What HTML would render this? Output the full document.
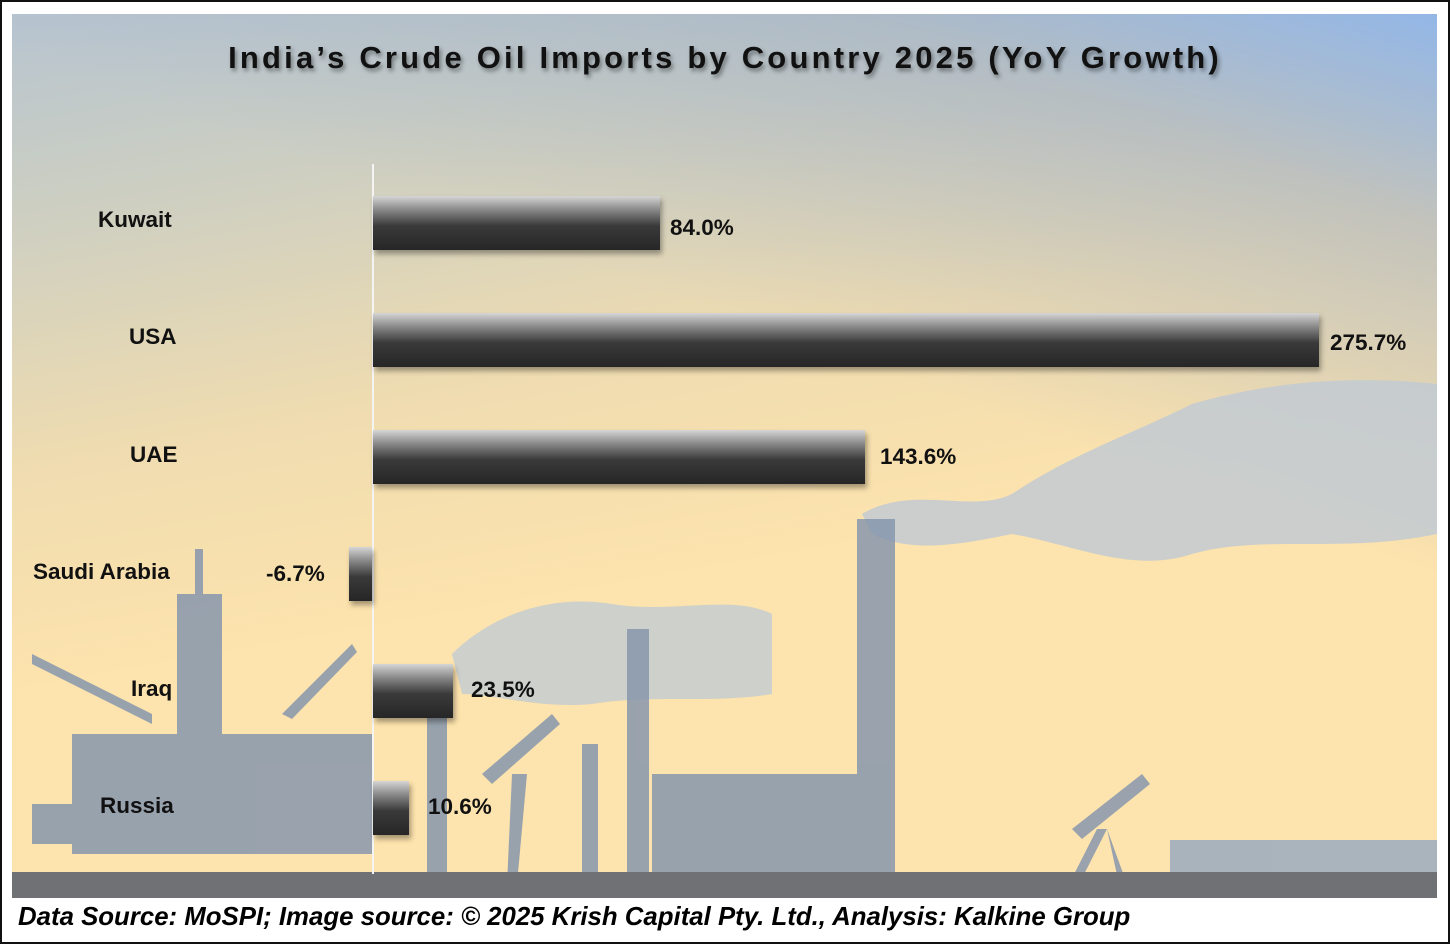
<!DOCTYPE html>
<html><head><meta charset="utf-8"><style>
body{margin:0;width:1450px;height:944px;background:#fff;position:relative;overflow:hidden;font-family:"Liberation Sans",sans-serif}
.frame{position:absolute;left:0;top:0;width:1446px;height:940px;border:2px solid #111}
.img{position:absolute;left:12px;top:14px;width:1425px;height:884px;overflow:hidden;
background:linear-gradient(170deg,#b7c4d0 0%,#c9cdc4 15%,#efdcb0 40%,#fde3ad 60%,#fde3ad 100%)}
.sky{position:absolute;left:0;top:0;width:100%;height:100%;background:linear-gradient(200deg,rgba(140,180,235,.9) 0%,rgba(150,170,200,.5) 15%,rgba(200,200,190,0) 40%)}
.title{position:absolute;left:0;width:1450px;top:40px;text-align:center;font-weight:bold;font-size:31px;letter-spacing:3.2px;color:#111;text-shadow:2px 3px 4px rgba(0,0,0,.4)}
.bar{position:absolute;height:54px;background:linear-gradient(#d6d6d6 0%,#8a8a8a 25%,#3a3a3a 55%,#262626 100%);box-shadow:2px 4px 5px rgba(0,0,0,.35)}
.lab{position:absolute;font-weight:bold;font-size:22.5px;color:#111}
.val{position:absolute;font-weight:bold;font-size:22.5px;color:#111}
.foot{position:absolute;left:18px;top:903px;font-style:italic;font-weight:bold;font-size:25.8px;color:#000}
</style></head><body>
<div class="frame"></div>
<div class="img"><div class="sky"></div>
<svg width="1425" height="884" style="position:absolute;left:0;top:0">
<path d="M850 500 C900 470 960 500 1000 480 C1060 440 1120 420 1180 390 C1250 370 1330 360 1425 370 L1425 520 C1330 540 1250 520 1180 540 C1120 560 1060 530 1000 520 C950 530 900 540 860 520Z" fill="#c2cad2" opacity=".85"/>
<path d="M440 640 C480 600 540 580 600 590 C660 600 720 580 760 600 L760 680 C700 690 640 680 580 690 C530 695 480 680 450 680Z" fill="#c2cad2" opacity=".8"/>
<g fill="#8797ad" opacity=".85">
<rect x="165" y="580" width="45" height="160"/>
<rect x="183" y="535" width="8" height="50"/>
<path d="M20 640 L140 700 L140 710 L20 650Z"/>
<path d="M340 630 L270 700 L280 705 L345 638Z"/>
<rect x="60" y="720" width="300" height="120"/>
<rect x="20" y="790" width="100" height="40"/>
<rect x="415" y="700" width="20" height="170"/>
<rect x="615" y="615" width="22" height="255"/>
<rect x="570" y="730" width="16" height="140"/>
<rect x="845" y="505" width="38" height="365"/>
<rect x="640" y="760" width="210" height="110"/>
<path d="M470 760 L540 700 L548 710 L480 770Z M500 760 L495 870 L505 870 L515 760Z"/>
<path d="M1060 815 L1130 760 L1138 770 L1070 825Z M1085 815 L1050 884 L1060 884 L1095 815Z M1095 815 L1110 884 L1120 884Z"/>
<rect x="1158" y="826" width="267" height="58" fill="#9aabbf"/>
</g>
<rect x="0" y="858" width="1425" height="26" fill="#6f7175"/>
<rect x="360" y="150" width="2" height="710" fill="#f4f4f4"/>
</svg>
</div>
<div class="title">India’s Crude Oil Imports by Country 2025 (YoY Growth)</div>
<div class="bar" style="left:373px;top:196px;width:287px"></div>
<div class="bar" style="left:373px;top:313px;width:946px"></div>
<div class="bar" style="left:373px;top:430px;width:492px"></div>
<div class="bar" style="left:349px;top:547px;width:23px"></div>
<div class="bar" style="left:373px;top:664px;width:80px"></div>
<div class="bar" style="left:373px;top:781px;width:36px"></div>
<div class="lab" style="left:98px;top:207px">Kuwait</div>
<div class="lab" style="left:129px;top:324px">USA</div>
<div class="lab" style="left:130px;top:442px">UAE</div>
<div class="lab" style="left:33px;top:559px">Saudi Arabia</div>
<div class="lab" style="left:131px;top:676px">Iraq</div>
<div class="lab" style="left:100px;top:793px">Russia</div>
<div class="val" style="left:670px;top:215px">84.0%</div>
<div class="val" style="left:1330px;top:330px">275.7%</div>
<div class="val" style="left:880px;top:444px">143.6%</div>
<div class="val" style="left:266px;top:561px">-6.7%</div>
<div class="val" style="left:471px;top:677px">23.5%</div>
<div class="val" style="left:428px;top:794px">10.6%</div>
<div class="foot">Data Source: MoSPI; Image source: © 2025 Krish Capital Pty. Ltd., Analysis: Kalkine Group</div>
</body></html>
